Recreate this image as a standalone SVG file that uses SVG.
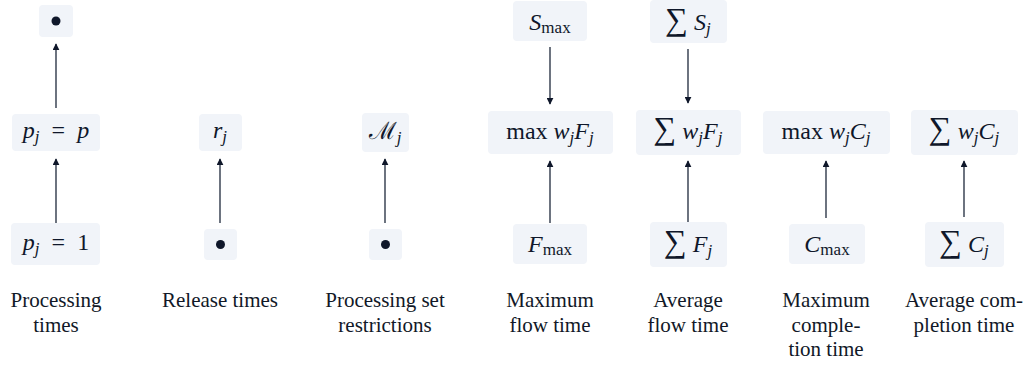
<svg xmlns="http://www.w3.org/2000/svg" width="1027" height="365" viewBox="0 0 1027 365">
<style>
.box{fill:#f1f4f9}
.m{font-family:"Liberation Serif","DejaVu Serif",serif;font-size:24px;fill:#0f172a;text-anchor:middle}
.i{font-style:italic}
.s{font-size:17px}
.sig{font-size:32px}
.lbl{font-family:"Liberation Serif","DejaVu Serif",serif;font-size:21px;fill:#111827;text-anchor:middle}
.a{stroke:#1e293b;stroke-width:1.3;fill:none;marker-end:url(#ah)}
.dot{fill:#0f172a}
</style>
<defs>
<marker id="ah" viewBox="0 0 10 10" refX="9" refY="5" markerWidth="7" markerHeight="7" markerUnits="userSpaceOnUse" orient="auto">
<path d="M0,0 L10,5 L0,10 z" fill="#0f172a"/>
</marker>
</defs>
<g id="connectors">
<line class="a" x1="56" y1="108" x2="56" y2="44"/>
<line class="a" x1="56" y1="223" x2="56" y2="159"/>
<line class="a" x1="220" y1="223" x2="220" y2="159"/>
<line class="a" x1="385" y1="223" x2="385" y2="159"/>
<line class="a" x1="550" y1="47" x2="550" y2="104"/>
<line class="a" x1="550" y1="223" x2="550" y2="161"/>
<line class="a" x1="688" y1="49" x2="688" y2="103"/>
<line class="a" x1="688" y1="222" x2="688" y2="161"/>
<line class="a" x1="826" y1="218" x2="826" y2="161"/>
<line class="a" x1="964" y1="217" x2="964" y2="161"/>
</g>
<g id="n-pany">
<rect class="box" x="39" y="5" width="34" height="32" rx="4"/>
<circle class="dot" cx="56" cy="21" r="4.5"/>
</g>
<g id="n-pjp">
<rect class="box" x="12" y="114" width="88" height="37" rx="4"/>
<text class="m" x="56" y="138"><tspan class="i">p</tspan><tspan class="i s" dy="4">j</tspan><tspan dy="-4">&#8194;=&#8194;</tspan><tspan class="i">p</tspan></text>
</g>
<g id="n-pj1">
<rect class="box" x="11" y="223" width="89" height="42" rx="4"/>
<text class="m" x="56" y="250"><tspan class="i">p</tspan><tspan class="i s" dy="4">j</tspan><tspan dy="-4">&#8194;=&#8194;1</tspan></text>
</g>
<g id="n-rj">
<rect class="box" x="199" y="114" width="43" height="37" rx="4"/>
<text class="m" x="220" y="138"><tspan class="i">r</tspan><tspan class="i s" dy="4">j</tspan></text>
</g>
<g id="n-r0">
<rect class="box" x="204" y="229" width="33" height="31" rx="4"/>
<circle class="dot" cx="220.5" cy="244.5" r="4.5"/>
</g>
<g id="n-mj">
<rect class="box" x="362" y="113" width="47" height="39" rx="4"/>
<text class="m" x="385" y="139"><tspan>ℳ</tspan><tspan class="i s" dy="4">j</tspan></text>
</g>
<g id="n-m0">
<rect class="box" x="369" y="229" width="33" height="31" rx="4"/>
<circle class="dot" cx="385.5" cy="244.5" r="4.5"/>
</g>
<g id="n-smax">
<rect class="box" x="513" y="1" width="74" height="40" rx="4"/>
<text class="m" x="550" y="30"><tspan class="i">S</tspan><tspan class="s" dy="3">max</tspan></text>
</g>
<g id="n-maxwf">
<rect class="box" x="488" y="111" width="125" height="43" rx="4"/>
<text class="m" x="550" y="139">max <tspan class="i">w</tspan><tspan class="i s" dy="4">j</tspan><tspan class="i" dy="-4">F</tspan><tspan class="i s" dy="4">j</tspan></text>
</g>
<g id="n-fmax">
<rect class="box" x="513" y="224" width="74" height="40" rx="4"/>
<text class="m" x="550" y="252"><tspan class="i">F</tspan><tspan class="s" dy="3">max</tspan></text>
</g>
<g id="n-ssj">
<rect class="box" x="650" y="0" width="77" height="43" rx="4"/>
<text class="m" x="688" y="30"><tspan class="sig">∑</tspan><tspan class="i"> S</tspan><tspan class="i s" dy="4">j</tspan></text>
</g>
<g id="n-swf">
<rect class="box" x="636" y="110" width="105" height="45" rx="4"/>
<text class="m" x="688" y="139"><tspan class="sig">∑</tspan><tspan class="i"> w</tspan><tspan class="i s" dy="4">j</tspan><tspan class="i" dy="-4">F</tspan><tspan class="i s" dy="4">j</tspan></text>
</g>
<g id="n-sf">
<rect class="box" x="650" y="222" width="77" height="45" rx="4"/>
<text class="m" x="688" y="252"><tspan class="sig">∑</tspan><tspan class="i"> F</tspan><tspan class="i s" dy="4">j</tspan></text>
</g>
<g id="n-maxwc">
<rect class="box" x="763" y="111" width="127" height="43" rx="4"/>
<text class="m" x="826" y="139">max <tspan class="i">w</tspan><tspan class="i s" dy="4">j</tspan><tspan class="i" dy="-4">C</tspan><tspan class="i s" dy="4">j</tspan></text>
</g>
<g id="n-cmax">
<rect class="box" x="789" y="224" width="76" height="40" rx="4"/>
<text class="m" x="827" y="252"><tspan class="i">C</tspan><tspan class="s" dy="3">max</tspan></text>
</g>
<g id="n-swc">
<rect class="box" x="911" y="110" width="107" height="45" rx="4"/>
<text class="m" x="964" y="139"><tspan class="sig">∑</tspan><tspan class="i"> w</tspan><tspan class="i s" dy="4">j</tspan><tspan class="i" dy="-4">C</tspan><tspan class="i s" dy="4">j</tspan></text>
</g>
<g id="n-sc">
<rect class="box" x="925" y="222" width="79" height="45" rx="4"/>
<text class="m" x="964" y="252"><tspan class="sig">∑</tspan><tspan class="i"> C</tspan><tspan class="i s" dy="4">j</tspan></text>
</g>
<g id="labels">
<text class="lbl" x="56" y="307">Processing</text>
<text class="lbl" x="56" y="332">times</text>
<text class="lbl" x="220" y="307">Release times</text>
<text class="lbl" x="385" y="307">Processing set</text>
<text class="lbl" x="385" y="332">restrictions</text>
<text class="lbl" x="550" y="307">Maximum</text>
<text class="lbl" x="550" y="332">flow time</text>
<text class="lbl" x="688" y="307">Average</text>
<text class="lbl" x="688" y="332">flow time</text>
<text class="lbl" x="826" y="307">Maximum</text>
<text class="lbl" x="826" y="332">comple-</text>
<text class="lbl" x="826" y="356">tion time</text>
<text class="lbl" x="964" y="307">Average com-</text>
<text class="lbl" x="964" y="332">pletion time</text>
</g>
</svg>
